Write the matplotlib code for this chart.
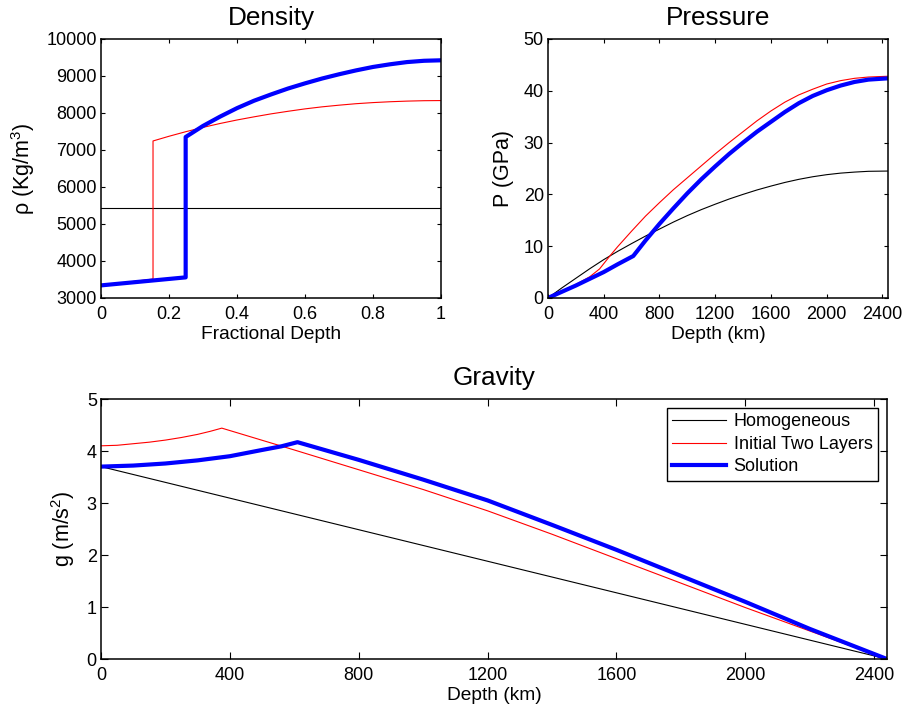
import matplotlib
matplotlib.use("Agg")
import matplotlib.pyplot as plt

plt.rcParams['font.family'] = ['Liberation Sans', 'DejaVu Sans']
plt.rcParams['mathtext.fontset'] = 'custom'
plt.rcParams['mathtext.rm'] = 'Liberation Sans'
plt.rcParams['mathtext.it'] = 'Liberation Sans:italic'

# Density vs fractional depth
dens_frac_homog = [0, 1]
dens_homog = [5430, 5430]
dens_frac_init = [0, 0.153, 0.153, 0.2, 0.25, 0.3, 0.35, 0.4, 0.45, 0.5, 0.55,
                  0.6, 0.65, 0.7, 0.75, 0.8, 0.85, 0.9, 0.95, 1.0]
dens_init = [3340, 3512, 7243, 7370, 7495, 7610, 7715, 7810, 7895, 7975, 8045,
             8110, 8165, 8210, 8250, 8280, 8303, 8320, 8331, 8335]
dens_frac_sol = [0, 0.249, 0.249, 0.3, 0.35, 0.4, 0.45, 0.5, 0.55, 0.6, 0.65,
                 0.7, 0.75, 0.8, 0.85, 0.9, 0.95, 1.0]
dens_sol = [3340, 3557, 7350, 7649, 7900, 8130, 8330, 8500, 8660, 8800, 8930,
            9045, 9150, 9243, 9315, 9375, 9410, 9423]

# Pressure vs depth (km)
pres_depth_homog = [0, 100, 200, 300, 400, 500, 600, 700, 800, 900, 1000, 1100, 1200,
                    1300, 1400, 1500, 1600, 1700, 1800, 1900, 2000, 2100, 2200, 2300, 2440]
pres_homog = [0, 1.95, 3.8, 5.65, 7.4, 9.0, 10.5, 11.95, 13.3, 14.65, 15.9, 17.05, 18.1,
              19.1, 20.0, 20.85, 21.6, 22.3, 22.9, 23.4, 23.8, 24.1, 24.3, 24.45, 24.5]
pres_depth_init = [0, 100, 200, 300, 370, 450, 500, 600, 700, 800, 900, 1000, 1100, 1200,
                   1300, 1400, 1500, 1600, 1700, 1800, 1900, 2000, 2100, 2200, 2300, 2440]
pres_init = [0, 1.3, 2.6, 4.1, 5.6, 8.3, 9.9, 12.9, 15.8, 18.4, 20.9, 23.2, 25.5, 27.8,
             30.0, 32.1, 34.2, 36.1, 37.8, 39.2, 40.3, 41.3, 41.95, 42.4, 42.65, 42.8]
pres_depth_sol = [0, 100, 200, 300, 400, 500, 612, 700, 800, 900, 1000, 1100, 1200,
                  1300, 1400, 1500, 1600, 1700, 1800, 1900, 2000, 2100, 2200, 2300, 2440]
pres_sol = [0, 1.2, 2.4, 3.7, 5.0, 6.5, 8.1, 11.1, 14.3, 17.3, 20.2, 22.9, 25.4,
            27.8, 30.0, 32.1, 34.0, 35.9, 37.6, 39.0, 40.1, 41.0, 41.7, 42.15, 42.4]

# Gravity vs depth (km)
grav_depth_homog = [0, 2440]
grav_homog = [3.70, 0.0]
grav_depth_init = [0, 50, 100, 150, 200, 250, 300, 340, 375, 600, 800, 1000, 1200,
                   1400, 1600, 1800, 2000, 2200, 2440]
grav_init = [4.10, 4.11, 4.14, 4.17, 4.21, 4.26, 4.32, 4.38, 4.44, 4.02, 3.64, 3.26, 2.85,
             2.40, 1.93, 1.46, 0.99, 0.54, 0.0]
grav_depth_sol = [0, 100, 200, 300, 400, 500, 560, 610, 800, 1000, 1200, 1400, 1600,
                  1800, 2000, 2200, 2440]
grav_sol = [3.70, 3.72, 3.76, 3.82, 3.90, 4.02, 4.09, 4.17, 3.83, 3.45, 3.05, 2.58, 2.10,
            1.60, 1.10, 0.58, 0.0]

labels = ['Homogeneous', 'Initial Two Layers', 'Solution']
thin = 0.8
thick = 3.0

fig = plt.figure(figsize=(9.05, 7.12), dpi=100)
ax1 = fig.add_axes([0.1116, 0.5815, 0.3757, 0.3638])
ax2 = fig.add_axes([0.6055, 0.5815, 0.3757, 0.3638])
ax3 = fig.add_axes([0.1116, 0.0744, 0.8685, 0.3652])


def style(ax, ticklen):
    for s in ax.spines.values():
        s.set_linewidth(1.1)
    ax.tick_params(direction='in', top=True, right=True, length=ticklen,
                   width=0.8, labelsize=13)
    ax.tick_params(axis='x', pad=6)
    ax.tick_params(axis='y', pad=3)


# Density
ax1.plot(dens_frac_homog, dens_homog, color='black', lw=thin)
ax1.plot(dens_frac_init, dens_init, color='red', lw=thin)
ax1.plot(dens_frac_sol, dens_sol, color='blue', lw=thick)
ax1.set_xlim(0, 1)
ax1.set_ylim(3000, 10000)
ax1.set_xticks([0, 0.2, 0.4, 0.6, 0.8, 1])
ax1.set_xticklabels(['0', '0.2', '0.4', '0.6', '0.8', '1'])
ax1.set_yticks(range(3000, 10001, 1000))
ax1.set_title('Density', fontsize=18.8, pad=10)
ax1.set_xlabel('Fractional Depth', fontsize=13.8, labelpad=2)
ax1.set_ylabel('ρ (Kg/m$^3$)', fontsize=15.5, labelpad=7)
style(ax1, 3.2)

# Pressure
ax2.plot(pres_depth_homog, pres_homog, color='black', lw=thin)
ax2.plot(pres_depth_init, pres_init, color='red', lw=thin)
ax2.plot(pres_depth_sol, pres_sol, color='blue', lw=thick)
ax2.set_xlim(0, 2440)
ax2.set_ylim(0, 50)
ax2.set_xticks(range(0, 2401, 400))
ax2.set_yticks(range(0, 51, 10))
ax2.set_title('Pressure', fontsize=18.8, pad=10)
ax2.set_xlabel('Depth (km)', fontsize=13.8, labelpad=2)
ax2.set_ylabel('P (GPa)', fontsize=15.5, labelpad=7)
style(ax2, 3.2)

# Gravity
ax3.plot(grav_depth_homog, grav_homog, color='black', lw=thin, label=labels[0])
ax3.plot(grav_depth_init, grav_init, color='red', lw=thin, label=labels[1])
ax3.plot(grav_depth_sol, grav_sol, color='blue', lw=thick, label=labels[2])
ax3.set_xlim(0, 2440)
ax3.set_ylim(0, 5)
ax3.set_xticks(range(0, 2401, 400))
ax3.set_yticks(range(0, 6))
ax3.set_title('Gravity', fontsize=18.8, pad=10)
ax3.set_xlabel('Depth (km)', fontsize=13.8, labelpad=2)
ax3.set_ylabel('g (m/s$^2$)', fontsize=15.5, labelpad=7)
style(ax3, 5.0)

leg = ax3.legend(loc='upper right', fontsize=13, fancybox=False, framealpha=1,
                 edgecolor='black', handlelength=3.0, handletextpad=0.4,
                 labelspacing=0.3, borderaxespad=0.5, borderpad=0.3)
leg.get_frame().set_linewidth(1.0)

fig.savefig('out.png', dpi=100)
